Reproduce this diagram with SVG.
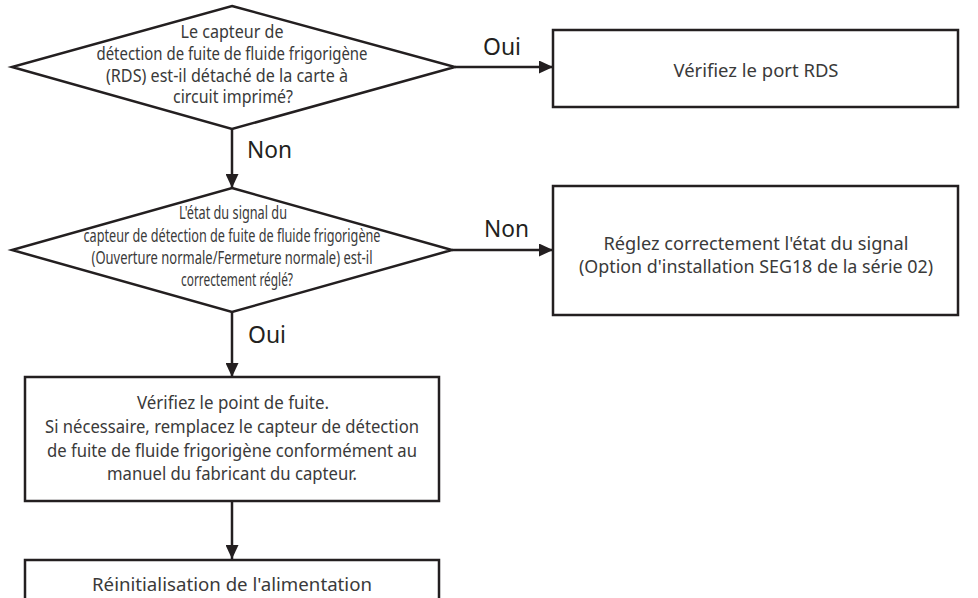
<svg xmlns="http://www.w3.org/2000/svg" width="978" height="598" viewBox="0 0 978 598">
  <style>
    .shape { fill: #ffffff; stroke: #231f20; stroke-width: 2.5; }
    .conn { fill: none; stroke: #231f20; stroke-width: 2.5; }
    .t { font-family: "Noto Sans", "Open Sans", sans-serif; fill: #3a3a3a; text-anchor: middle; }
    .dt { font-size: 17.5px; }
    .bt { font-size: 17.5px; }
    .lbl { font-family: "Noto Sans", "Open Sans", sans-serif; fill: #231f20; font-size: 23px; }
  </style>
  <defs>
    <marker id="arrow" markerUnits="userSpaceOnUse" markerWidth="14" markerHeight="13" viewBox="0 0 14 13" refX="14" refY="6.5" orient="auto">
      <path d="M0,0 L14,6.5 L0,13 Z" fill="#231f20"/>
    </marker>
  </defs>

  <g id="connectors">
    <line class="conn" x1="455" y1="67" x2="553" y2="67" marker-end="url(#arrow)"/>
    <line class="conn" x1="232" y1="129" x2="232" y2="188" marker-end="url(#arrow)"/>
    <line class="conn" x1="452" y1="250" x2="553" y2="250" marker-end="url(#arrow)"/>
    <line class="conn" x1="232" y1="312" x2="232" y2="377" marker-end="url(#arrow)"/>
    <line class="conn" x1="232" y1="501" x2="232" y2="559" marker-end="url(#arrow)"/>
    <text class="lbl" x="483" y="55" textLength="38" lengthAdjust="spacingAndGlyphs">Oui</text>
    <text class="lbl" x="247" y="158" textLength="45" lengthAdjust="spacingAndGlyphs">Non</text>
    <text class="lbl" x="484" y="237" textLength="45" lengthAdjust="spacingAndGlyphs">Non</text>
    <text class="lbl" x="248" y="343" textLength="38" lengthAdjust="spacingAndGlyphs">Oui</text>
  </g>

  <g id="decision1">
    <polygon class="shape" points="232,6 455,67 232,129 12,67"/>
    <text class="t dt" x="232" y="38" textLength="103" lengthAdjust="spacingAndGlyphs">Le capteur de</text>
    <text class="t dt" x="232" y="60" textLength="271" lengthAdjust="spacingAndGlyphs">détection de fuite de fluide frigorigène</text>
    <text class="t dt" x="227" y="82" textLength="242" lengthAdjust="spacingAndGlyphs">(RDS) est-il détaché de la carte à</text>
    <text class="t dt" x="233" y="103" textLength="120" lengthAdjust="spacingAndGlyphs">circuit imprimé?</text>
  </g>

  <g id="box-rds">
    <rect class="shape" x="553" y="30" width="405" height="77"/>
    <text class="t bt" x="756" y="77" textLength="165" lengthAdjust="spacingAndGlyphs">Vérifiez le port RDS</text>
  </g>

  <g id="decision2">
    <polygon class="shape" points="232,188 452,250 232,312 12,250"/>
    <text class="t dt" x="233" y="219" textLength="108" lengthAdjust="spacingAndGlyphs">L'état du signal du</text>
    <text class="t dt" x="232" y="242" textLength="297" lengthAdjust="spacingAndGlyphs">capteur de détection de fuite de fluide frigorigène</text>
    <text class="t dt" x="232" y="264" textLength="281" lengthAdjust="spacingAndGlyphs">(Ouverture normale/Fermeture normale) est-il</text>
    <text class="t dt" x="237" y="286" textLength="112" lengthAdjust="spacingAndGlyphs">correctement réglé?</text>
  </g>

  <g id="box-signal">
    <rect class="shape" x="553" y="186" width="405" height="129"/>
    <text class="t bt" x="756" y="250" textLength="305" lengthAdjust="spacingAndGlyphs">Réglez correctement l'état du signal</text>
    <text class="t bt" x="756" y="273" textLength="354" lengthAdjust="spacingAndGlyphs">(Option d'installation SEG18 de la série 02)</text>
  </g>

  <g id="box-leak">
    <rect class="shape" x="25" y="377" width="414" height="124"/>
    <text class="t bt" x="233" y="409" textLength="192" lengthAdjust="spacingAndGlyphs">Vérifiez le point de fuite.</text>
    <text class="t bt" x="232" y="433" textLength="374" lengthAdjust="spacingAndGlyphs">Si nécessaire, remplacez le capteur de détection</text>
    <text class="t bt" x="232" y="457" textLength="370" lengthAdjust="spacingAndGlyphs">de fuite de fluide frigorigène conformément au</text>
    <text class="t bt" x="232" y="480" textLength="250" lengthAdjust="spacingAndGlyphs">manuel du fabricant du capteur.</text>
  </g>

  <g id="box-reset">
    <rect class="shape" x="25" y="560" width="414" height="60"/>
    <text class="t bt" x="232" y="591" textLength="280" lengthAdjust="spacingAndGlyphs">Réinitialisation de l'alimentation</text>
  </g>
</svg>
